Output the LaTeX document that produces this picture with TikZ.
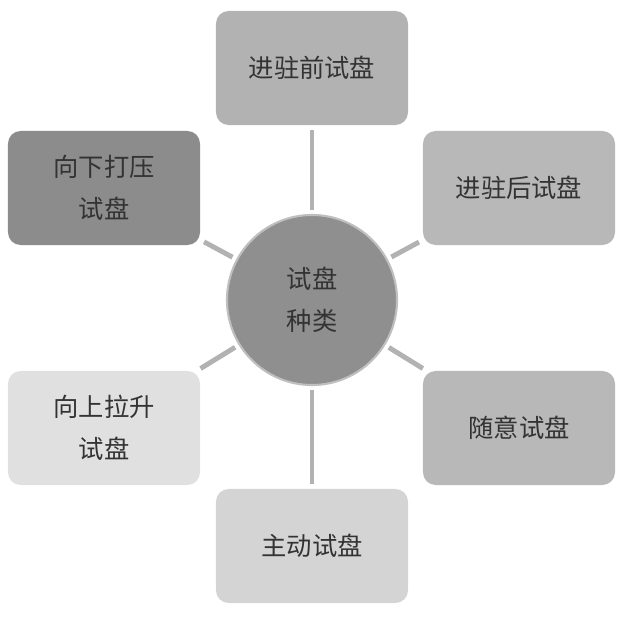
\documentclass[tikz,border=0pt]{standalone}
\usepackage{fontspec}
\setmainfont{Noto Sans CJK SC}
\begin{document}
\begin{tikzpicture}[x=0.025cm,y=-0.025cm,
    kind/.style={draw=none, rounded corners=9pt, minimum width=4.8cm, minimum height=2.85cm,
                 align=center, text=black!80, font=\fontsize{18}{30}\selectfont},
    hub/.style={circle, draw=black!25, line width=1.5pt, fill=black!44, minimum size=4.25cm,
                align=center, text=black!80, font=\fontsize{18}{30}\selectfont},
    link/.style={draw=black!30, line width=3.5pt, shorten <=3pt, shorten >=3pt}]
    % Rahmen
    \useasboundingbox (0,0) rectangle (633,623);
    % Mitte
    \node[hub] (c) at (312,300) {试盘\\种类};
    % Kaesten
    \node[kind, fill=black!30] (top) at (312,68) {进驻前试盘};
    \node[kind, fill=black!45] (tl) at (104,188) {向下打压\\试盘};
    \node[kind, fill=black!28] (tr) at (519,188) {进驻后试盘};
    \node[kind, fill=black!12] (bl) at (104,428) {向上拉升\\试盘};
    \node[kind, fill=black!28] (br) at (519,428) {随意试盘};
    \node[kind, fill=black!17] (bot) at (312,546) {主动试盘};
    % Verbindungen
    \foreach \k in {top,tl,tr,bl,br,bot}
        \draw[link] (c) -- (\k);
\end{tikzpicture}
\end{document}
